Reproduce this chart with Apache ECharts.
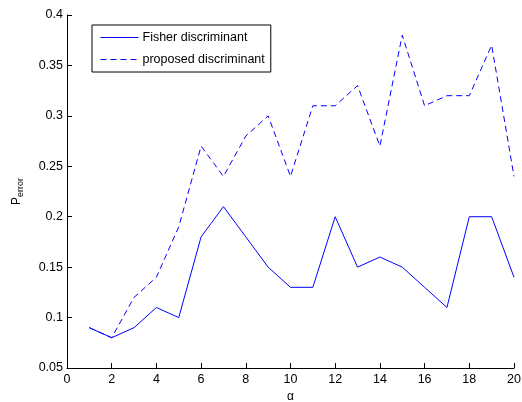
<!DOCTYPE html>
<html>
<head>
<meta charset="utf-8">
<script src="https://cdn.jsdelivr.net/npm/echarts@6/dist/echarts.min.js"></script>
<style>
  html, body { margin: 0; padding: 0; background: #fff; }
  #chart { width: 522px; height: 402px; }
</style>
</head>
<body>
<div id="chart"></div>
<script>
const alphas = [1, 2, 3, 4, 5, 6, 7, 8, 9, 10, 11, 12, 13, 14, 15, 16, 17, 18, 19, 20]
const fisher = [0.09, 0.08, 0.09, 0.11, 0.10, 0.18, 0.21, 0.18, 0.15, 0.13, 0.13, 0.20, 0.15, 0.16, 0.15, 0.13, 0.11, 0.20, 0.20, 0.14]
const proposed = [0.09, 0.08, 0.12, 0.14, 0.19, 0.27, 0.24, 0.28, 0.30, 0.24, 0.31, 0.31, 0.33, 0.27, 0.38, 0.31, 0.32, 0.32, 0.37, 0.24]

const font = 'Liberation Sans, Arial, sans-serif'
const blue = '#0000ff'
const dash = [6, 4]
const chart = echarts.init(document.getElementById('chart'))

const pair = (ys) => alphas.map((x, i) => [x, ys[i]])

chart.setOption({
  animation: false,
  textStyle: { fontFamily: font },
  grid: { left: 67, right: 8, top: 15, bottom: 34, outerBoundsMode: 'none', containLabel: false },
  legend: {
    left: 92,
    top: 25,
    orient: 'vertical',
    itemWidth: 38,
    itemHeight: 11,
    itemGap: 9,
    padding: [6, 6, 6, 8],
    backgroundColor: '#fff',
    borderColor: '#000',
    borderWidth: 1,
    itemStyle: { opacity: 0 },
    lineStyle: { width: 1, color: blue, opacity: 1 },
    textStyle: { fontFamily: font, fontSize: 12.5, color: '#000', padding: [0, 0, 0, -1] },
    data: ['Fisher discriminant', 'proposed discriminant'],
  },
  xAxis: {
    type: 'value',
    min: 0,
    max: 20,
    interval: 2,
    name: 'α',
    nameLocation: 'middle',
    nameGap: 22,
    nameTextStyle: { fontFamily: font, fontSize: 12, color: '#000' },
    axisLine: { lineStyle: { color: '#000', width: 1 } },
    axisTick: { inside: true, length: 5, lineStyle: { color: '#000' } },
    axisLabel: { color: '#000', fontSize: 12.5, fontFamily: font, margin: 5 },
    splitLine: { show: false },
  },
  yAxis: {
    type: 'value',
    min: 0.05,
    max: 0.4,
    interval: 0.05,
    name: '{p|P}{s|error}',
    nameLocation: 'middle',
    nameRotate: 90,
    nameGap: 42,
    nameTextStyle: {
      rich: {
        p: { fontFamily: font, fontSize: 12, color: '#000', lineHeight: 14 },
        s: { fontFamily: font, fontSize: 9, color: '#000', padding: [7, 0, 0, 0], verticalAlign: 'bottom' },
      },
    },
    axisLine: { show: true, lineStyle: { color: '#000', width: 1 } },
    axisTick: { show: true, inside: true, length: 5, lineStyle: { color: '#000' } },
    axisLabel: {
      color: '#000', fontSize: 12.5, fontFamily: font, margin: 4,
      formatter: (v) => String(+v.toFixed(2)),
    },
    splitLine: { show: false },
  },
  series: [
    {
      name: 'Fisher discriminant',
      type: 'line',
      data: pair(fisher),
      symbol: 'none',
      color: blue,
      lineStyle: { color: blue, width: 1 },
    },
    {
      name: 'proposed discriminant',
      type: 'line',
      data: pair(proposed),
      symbol: 'none',
      color: blue,
      lineStyle: { color: blue, width: 1, type: dash },
    },
  ],
})
</script>
</body>
</html>
